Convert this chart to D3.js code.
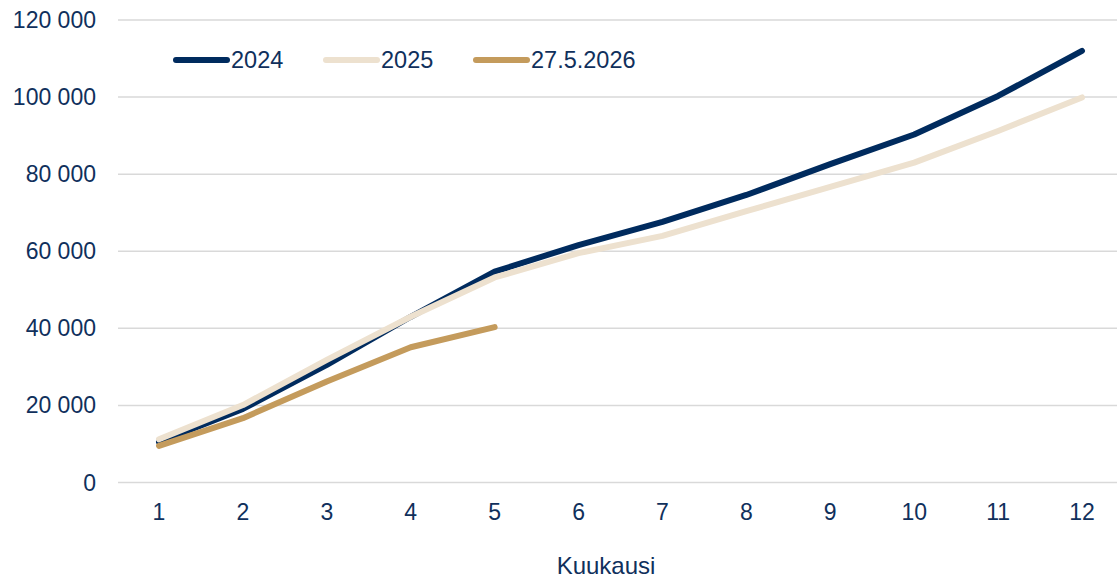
<!DOCTYPE html>
<html>
<head>
<meta charset="utf-8">
<script src="https://cdn.jsdelivr.net/npm/d3@7"></script>
<style>
  body { margin: 0; background: #fff; }
  text { font-family: "Liberation Sans", Arial, sans-serif; fill: #10305c; }
</style>
</head>
<body>
<svg width="1117" height="580"></svg>
<script>
let months = [1, 2, 3, 4, 5, 6, 7, 8, 9, 10, 11, 12];
let yTicks = [0, 20000, 40000, 60000, 80000, 100000, 120000];
let seriesNames = ["2024", "2025", "27.5.2026"];
let values2024 = [10500, 19100, 30500, 43000, 54700, 61600, 67600, 74600, 82600, 90300, 100300, 112000];
let values2025 = [11200, 20100, 31800, 43000, 53200, 59500, 64000, 70400, 76700, 83000, 91200, 99900];
let values2026 = [9500, 16700, 26200, 35100, 40300];
let colors = ["#002b5e", "#ede1cf", "#c49b5c"];

let svg = d3.select("svg"),
  width = +svg.attr("width"),
  height = +svg.attr("height");

let x = d3.scalePoint()
  .domain(months)
  .range([159, 1082]);

let y = d3.scaleLinear()
  .domain([0, 120000])
  .range([482.5, 20]);

let fmt = d => d3.format(",")(d).replace(/,/g, " ");

// gridlines
svg.append("g")
  .selectAll("line")
  .data(yTicks)
  .enter().append("line")
  .attr("x1", 118)
  .attr("x2", width)
  .attr("y1", d => y(d))
  .attr("y2", d => y(d))
  .attr("stroke", "#d9d9d9")
  .attr("stroke-width", 1.5);

// y labels
svg.append("g")
  .selectAll("text")
  .data(yTicks)
  .enter().append("text")
  .attr("x", 96)
  .attr("y", d => y(d) + 8)
  .attr("text-anchor", "end")
  .style("font-size", "23px")
  .text(d => fmt(d));

// x labels
svg.append("g")
  .selectAll("text")
  .data(months)
  .enter().append("text")
  .attr("x", d => x(d))
  .attr("y", 520)
  .attr("text-anchor", "middle")
  .style("font-size", "23px")
  .text(d => d);

svg.append("text")
  .attr("x", 606)
  .attr("y", 574)
  .attr("text-anchor", "middle")
  .style("font-size", "24px")
  .text("Kuukausi");

let series = [values2024, values2025, values2026];

let line = d3.line()
  .x((d, i) => x(months[i]))
  .y(d => y(d));

svg.append("g")
  .selectAll("path")
  .data(series)
  .enter().append("path")
  .attr("d", d => line(d))
  .attr("fill", "none")
  .attr("stroke", (d, i) => colors[i])
  .attr("stroke-width", 6)
  .attr("stroke-linecap", "round")
  .attr("stroke-linejoin", "round");

// legend
let legend = svg.append("g")
  .selectAll("g")
  .data(seriesNames)
  .enter().append("g")
  .attr("transform", (d, i) => "translate(" + (176 + i * 150) + ",60)");

legend.append("line")
  .attr("x1", 0)
  .attr("x2", 51)
  .attr("stroke", (d, i) => colors[i])
  .attr("stroke-width", 6)
  .attr("stroke-linecap", "round");

legend.append("text")
  .attr("x", 55)
  .attr("y", 8)
  .style("font-size", "23.5px")
  .text(d => d);
</script>
</body>
</html>
